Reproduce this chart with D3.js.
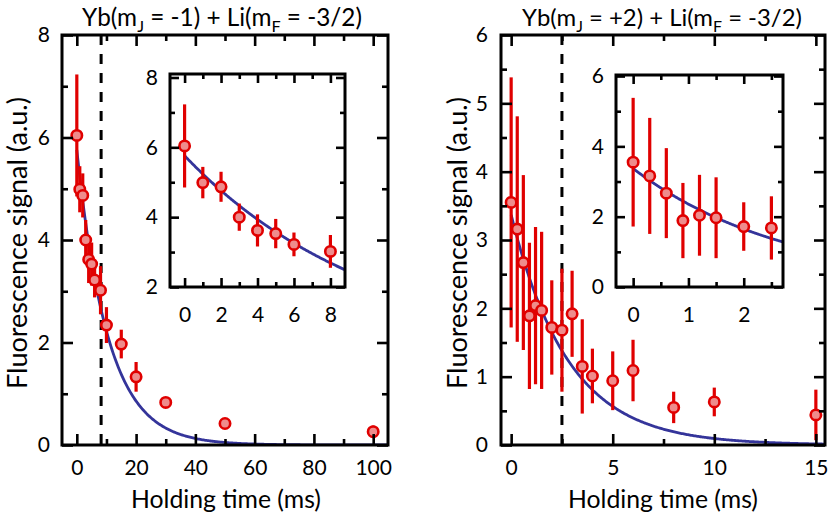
<!DOCTYPE html>
<html><head><meta charset="utf-8">
<script src="https://cdn.jsdelivr.net/npm/d3@7"></script>
<style>
html,body{margin:0;padding:0;background:#fff;}
svg{display:block;font-family:Lato,"Open Sans",sans-serif;}
</style></head>
<body>
<svg id="chart" width="830" height="524"></svg>
<script>
// ---------- data ----------
// Left panel: Yb(mJ=-1) + Li(mF=-3/2)
const leftTimes  = [0, 1, 2, 3, 4, 5, 6, 8, 10, 15, 20, 30, 50, 100];
const leftValues = [6.04, 4.99, 4.87, 4.00, 3.62, 3.53, 3.22, 3.02, 2.34, 1.97, 1.33, 0.83, 0.42, 0.26];
const leftErrors = [1.19, 0.45, 0.43, 0.39, 0.46, 0.42, 0.34, 0.47, 0.35, 0.28, 0.29, 0.05, 0.05, 0.12];
const leftFit = {amp: 5.76, tau: 10.5};   // exponential fit parameters
const leftMarker = 8.2;                   // dashed line (ms)

// Right panel: Yb(mJ=+2) + Li(mF=-3/2)
const rightTimes  = [0, 0.3, 0.6, 0.9, 1.2, 1.5, 2, 2.5, 3, 3.5, 4, 5, 6, 8, 10, 15];
const rightValues = [3.55, 3.16, 2.67, 1.89, 2.04, 1.97, 1.72, 1.68, 1.92, 1.15, 1.01, 0.94, 1.09, 0.55, 0.63, 0.44];
const rightErrors = [1.83, 1.65, 1.28, 1.07, 1.15, 1.15, 0.69, 0.90, 0.63, 0.69, 0.40, 0.43, 0.45, 0.23, 0.21, 0.37];
const rightFit = {amp: 3.37, tau: 2.8};
const rightMarker = 2.5;

// Tick values
const leftMainXTicks   = [0, 20, 40, 60, 80, 100];
const leftMainXMinor   = [10, 30, 50, 70, 90];
const leftMainYTicks   = [0, 2, 4, 6, 8];
const leftMainYMinor   = [1, 3, 5, 7];
const leftInsetXTicks  = [0, 2, 4, 6, 8];
const leftInsetXMinor  = [1, 3, 5, 7];
const leftInsetYTicks  = [2, 4, 6, 8];
const leftInsetYMinor  = [3, 5, 7];
const rightMainXTicks  = [0, 5, 10, 15];
const rightMainXMinor  = [2.5, 7.5, 12.5];
const rightMainYTicks  = [0, 1, 2, 3, 4, 5, 6];
const rightMainYMinor  = [0.5, 1.5, 2.5, 3.5, 4.5, 5.5];
const rightInsetXTicks = [0, 1, 2];
const rightInsetXMinor = [0.5, 1.5, 2.5];
const rightInsetYTicks = [0, 2, 4, 6];
const rightInsetYMinor = [1, 3, 5];

const xTitle = "Holding time (ms)";
const yTitle = "Fluorescence signal (a.u.)";

// ---------- styles ----------
const RED = "#e00000", PINK = "#ee8c8c", BLUE = "#34349a";
const FS = 21;

const svg = d3.select("#chart");
let clipId = 0;

function panel(cfg) {
  const x = d3.scaleLinear().domain(cfg.xDomain).range([cfg.x0, cfg.x1]);
  const y = d3.scaleLinear().domain(cfg.yDomain).range([cfg.y1, cfg.y0]);
  const g = svg.append("g");
  const id = "clip" + (clipId++);
  svg.append("clipPath").attr("id", id).append("rect")
    .attr("x", cfg.x0).attr("y", cfg.y0).attr("width", cfg.x1 - cfg.x0).attr("height", cfg.y1 - cfg.y0);

  if (cfg.whiteBg) {
    g.append("rect").attr("x", cfg.x0).attr("y", cfg.y0)
      .attr("width", cfg.x1 - cfg.x0).attr("height", cfg.y1 - cfg.y0).attr("fill", "#fff");
  }

  const inner = g.append("g").attr("clip-path", `url(#${id})`);

  if (cfg.marker != null) {
    inner.append("line")
      .attr("x1", x(cfg.marker)).attr("x2", x(cfg.marker))
      .attr("y1", cfg.y0).attr("y2", cfg.y1)
      .attr("stroke", "#000").attr("stroke-width", 3)
      .attr("stroke-dasharray", "10,9");
  }

  const tEnd = cfg.xDomain[1];
  const samples = d3.range(0, 301).map(i => i / 300 * tEnd);
  const line = d3.line().x(t => x(t)).y(t => y(cfg.fit.amp * Math.exp(-t / cfg.fit.tau)));
  inner.append("path").datum(samples).attr("d", line)
    .attr("fill", "none").attr("stroke", BLUE).attr("stroke-width", 2.8);

  const pts = cfg.times.map((t, i) => ({t, v: cfg.values[i], e: cfg.errors[i]}))
    .filter(d => d.t <= cfg.xDomain[1]);
  inner.selectAll(".err").data(pts).enter().append("line")
    .attr("x1", d => x(d.t)).attr("x2", d => x(d.t))
    .attr("y1", d => y(d.v - d.e)).attr("y2", d => y(d.v + d.e))
    .attr("stroke", RED).attr("stroke-width", 3.2);
  inner.selectAll(".pt").data(pts).enter().append("circle")
    .attr("cx", d => x(d.t)).attr("cy", d => y(d.v)).attr("r", 5.2)
    .attr("fill", PINK).attr("stroke", RED).attr("stroke-width", 2.6);

  const major = cfg.majorLen, minor = cfg.minorLen;
  function ax(gen, scale, vals, len, labels, pad, tr) {
    const a = gen(scale).tickValues(vals).tickSize(-len).tickPadding(pad)
      .tickFormat(labels ? d3.format("d") : () => "");
    const gg = g.append("g").attr("transform", tr).call(a);
    gg.select(".domain").remove();
    gg.selectAll("line").attr("stroke", "#000").attr("stroke-width", 2.6);
    gg.selectAll("text").attr("font-size", FS).attr("fill", "#000").attr("font-family", "Lato, 'Open Sans', sans-serif");
    return gg;
  }
  ax(d3.axisBottom, x, cfg.xTicks, major, true, cfg.xPad, `translate(0,${cfg.y1})`);
  ax(d3.axisBottom, x, cfg.xMinor, minor, false, 0, `translate(0,${cfg.y1})`);
  ax(d3.axisTop, x, cfg.xTicks, major, false, 0, `translate(0,${cfg.y0})`);
  ax(d3.axisTop, x, cfg.xMinor, minor, false, 0, `translate(0,${cfg.y0})`);
  ax(d3.axisLeft, y, cfg.yTicks, major, true, cfg.yPad, `translate(${cfg.x0},0)`);
  ax(d3.axisLeft, y, cfg.yMinor, minor, false, 0, `translate(${cfg.x0},0)`);
  ax(d3.axisRight, y, cfg.yTicks, major, false, 0, `translate(${cfg.x1},0)`);
  ax(d3.axisRight, y, cfg.yMinor, minor, false, 0, `translate(${cfg.x1},0)`);

  g.append("rect").attr("x", cfg.x0).attr("y", cfg.y0)
    .attr("width", cfg.x1 - cfg.x0).attr("height", cfg.y1 - cfg.y0)
    .attr("fill", "none").attr("stroke", "#000").attr("stroke-width", 3);
  return {x, y, g};
}

// scale a text's font so that it spans the target width
function fitWidth(sel, target) {
  const w = sel.node().getComputedTextLength();
  if (w > 0) {
    const f = target / w;
    sel.attr("font-size", +sel.attr("font-size") * f);
    sel.selectAll("tspan").each(function() {
      const t = d3.select(this);
      if (t.attr("font-size")) t.attr("font-size", +t.attr("font-size") * f);
      if (t.attr("dy")) t.attr("dy", +t.attr("dy") * f);
    });
  }
}

function title(cx, parts) {
  const t = svg.append("text").attr("x", cx).attr("y", 26)
    .attr("text-anchor", "middle").attr("font-size", FS).attr("fill", "#000");
  parts.forEach(p => {
    const s = t.append("tspan").text(p.text);
    if (p.sub) s.attr("font-size", 14).attr("dy", 5);
    else if (p.after) s.attr("dy", -5);
  });
  fitWidth(t, 280);
}

function labels(cx, cyTitleX) {
  const xt = svg.append("text").attr("x", cx).attr("y", 508).attr("text-anchor", "middle")
    .attr("font-size", FS).attr("fill", "#000").text(xTitle);
  fitWidth(xt, 190);
  const yt = svg.append("text").attr("transform", `translate(${cyTitleX},243) rotate(-90)`)
    .attr("text-anchor", "middle").attr("font-size", FS).attr("fill", "#000").text(yTitle);
  fitWidth(yt, 292);
}

panel({x0: 62, x1: 388, y0: 35, y1: 445, xDomain: [-5, 105], yDomain: [0, 8],
  times: leftTimes, values: leftValues, errors: leftErrors, fit: leftFit, marker: leftMarker,
  xTicks: leftMainXTicks, xMinor: leftMainXMinor, yTicks: leftMainYTicks, yMinor: leftMainYMinor,
  majorLen: 11, minorLen: 6, xPad: 15, yPad: 12});
panel({x0: 170, x1: 345, y0: 74, y1: 287, xDomain: [-0.8, 8.8], yDomain: [2, 8.1],
  times: leftTimes, values: leftValues, errors: leftErrors, fit: leftFit, marker: null, whiteBg: true,
  xTicks: leftInsetXTicks, xMinor: leftInsetXMinor, yTicks: leftInsetYTicks, yMinor: leftInsetYMinor,
  majorLen: 9, minorLen: 5, xPad: 20, yPad: 12});
panel({x0: 501, x1: 825, y0: 35, y1: 445, xDomain: [-0.5, 15.45], yDomain: [0, 6],
  times: rightTimes, values: rightValues, errors: rightErrors, fit: rightFit, marker: rightMarker,
  xTicks: rightMainXTicks, xMinor: rightMainXMinor, yTicks: rightMainYTicks, yMinor: rightMainYMinor,
  majorLen: 11, minorLen: 6, xPad: 15, yPad: 13});
panel({x0: 616, x1: 783, y0: 75, y1: 287, xDomain: [-0.31, 2.71], yDomain: [0, 6.03],
  times: rightTimes, values: rightValues, errors: rightErrors, fit: rightFit, marker: null, whiteBg: true,
  xTicks: rightInsetXTicks, xMinor: rightInsetXMinor, yTicks: rightInsetYTicks, yMinor: rightInsetYMinor,
  majorLen: 9, minorLen: 5, xPad: 20, yPad: 12});

title(222, [{text: "Yb(m"}, {text: "J", sub: true}, {text: " = -1) + Li(m", after: true},
            {text: "F", sub: true}, {text: " = -3/2)", after: true}]);
title(662, [{text: "Yb(m"}, {text: "J", sub: true}, {text: " = +2) + Li(m", after: true},
            {text: "F", sub: true}, {text: " = -3/2)", after: true}]);
labels(226, 27);
labels(663, 467);
</script>
</body></html>
